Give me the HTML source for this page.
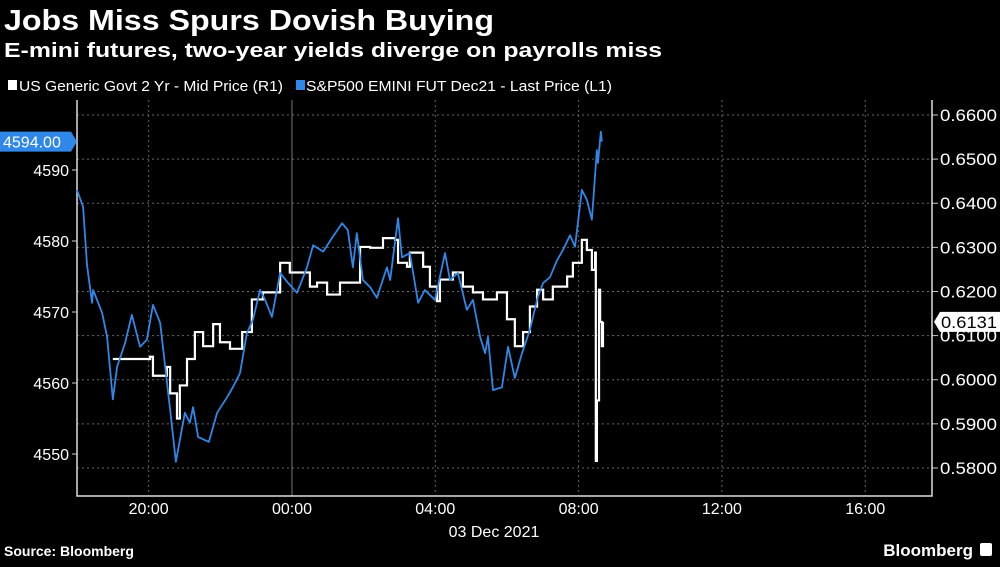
<!DOCTYPE html>
<html><head><meta charset="utf-8"><style>
body{margin:0;background:#000;width:1000px;height:562px;overflow:hidden;font-family:"Liberation Sans",sans-serif;color:#fff}
svg text{font-family:"Liberation Sans",sans-serif}
</style></head><body>
<svg id="chart" width="1000" height="562">
<text x="4" y="30" font-size="29" font-weight="bold" fill="#fff" textLength="490" lengthAdjust="spacingAndGlyphs">Jobs Miss Spurs Dovish Buying</text>
<text x="4" y="57" font-size="20" font-weight="bold" fill="#fff" textLength="658" lengthAdjust="spacingAndGlyphs">E-mini futures, two-year yields diverge on payrolls miss</text>
<g>
<rect x="8" y="80" width="9" height="10" fill="#fff"/>
<text x="19" y="91" font-size="15" fill="#fff" textLength="264" lengthAdjust="spacingAndGlyphs">US Generic Govt 2 Yr - Mid Price (R1)</text>
<rect x="296" y="80" width="9" height="10" fill="#2f87e8"/>
<text x="306" y="91" font-size="15" fill="#fff" textLength="306" lengthAdjust="spacingAndGlyphs">S&amp;P500 EMINI FUT  Dec21 - Last Price (L1)</text>
</g>
<g id="grid"></g><g id="axes"></g><g id="series"></g><g id="labels"></g>
<text x="4" y="556" font-size="14" font-weight="bold" fill="#fff">Source: Bloomberg</text>
<text x="973" y="556" font-size="17" font-weight="bold" fill="#fff" text-anchor="end">Bloomberg</text>
<rect x="980" y="543" width="12" height="13" rx="2" fill="#fff"/>
</svg>
<script>
// hours since 18:00 on 02 Dec
const spxTimes=[0,.17,.28,.42,.45,.70,.84,1.0,1.12,1.34,1.53,1.76,1.95,2.12,2.32,2.60,2.76,3.01,3.15,3.24,3.38,3.68,3.91,4.19,4.35,4.55,4.74,4.91,5.11,5.25,5.44,5.67,5.89,6.14,6.42,6.59,6.87,7.14,7.40,7.56,7.70,7.81,7.98,8.18,8.37,8.65,8.74,8.96,9.07,9.29,9.52,9.71,9.99,10.27,10.41,10.63,10.88,11.05,11.25,11.39,11.47,11.61,11.86,12.03,12.22,12.42,12.64,12.86,13.01,13.20,13.40,13.56,13.76,13.90,14.09,14.23,14.37,14.51,14.54,14.62,14.65];
const spxValues=[4587.2,4584.8,4576.6,4571.3,4573.1,4569.9,4566.5,4557.7,4562.3,4565.6,4569.6,4565.1,4566.1,4571.0,4568.5,4556.2,4548.9,4555.8,4554.4,4556.6,4552.4,4551.7,4555.8,4558.0,4559.4,4561.4,4567.0,4568.9,4573.1,4571.7,4569.3,4575.5,4574.1,4572.7,4576.3,4579.4,4578.5,4580.6,4582.5,4581.5,4576.3,4581.1,4574.5,4573.5,4572.0,4576.3,4574.5,4583.2,4577.7,4578.3,4571.3,4573.1,4571.7,4578.3,4574.5,4575.5,4570.3,4571.7,4566.5,4564.2,4566.5,4559.0,4559.4,4565.1,4560.7,4564.2,4567.5,4572.1,4574.1,4574.9,4577.3,4578.7,4580.8,4579.2,4587.2,4585.8,4583.0,4592.8,4591.0,4595.4,4594.0];
const yldTimes=[1.0,2.04,2.12,2.51,2.60,2.79,2.87,3.07,3.29,3.52,3.80,3.99,4.27,4.61,4.88,5.19,5.58,5.67,5.94,6.31,6.50,6.70,6.98,7.34,7.81,7.90,8.18,8.54,8.88,8.96,9.21,9.29,9.66,9.85,10.05,10.13,10.49,10.77,11.05,11.33,11.72,12.0,12.22,12.45,12.64,12.84,13.01,13.28,13.68,13.84,14.09,14.23,14.37,14.46,14.48,14.51,14.57,14.60,14.65,14.68];
const yldValues=[.6047,.6052,.6009,.6029,.5969,.5912,.5987,.6047,.6108,.6076,.6126,.6085,.6070,.6108,.6182,.6198,.6198,.6265,.6243,.6243,.6211,.6220,.6193,.6220,.6220,.6301,.6299,.6321,.6317,.6265,.6256,.6288,.6256,.6211,.6178,.6227,.6243,.6211,.6198,.6182,.6198,.6137,.6076,.6108,.6166,.6204,.6182,.6211,.6234,.6265,.6317,.6294,.6249,.6288,.5816,.5953,.6204,.6131,.6076,.6131];
const leftTicks=[4550,4560,4570,4580,4590];
const rightTicks=[0.58,0.59,0.60,0.61,0.62,0.63,0.64,0.65,0.66];
const xTickHours=[2,6,10,14,18,22];
const xTickLabels=["20:00","00:00","04:00","08:00","12:00","16:00"];
const spxLast="4594.00", yldLast="0.6131";

const L=77,R=932,T=100,B=496;
const xS=h=>L+h*35.83;
const yL=v=>170+(4590-v)*7.1;
const yR=v=>115+(0.66-v)*4412;
const NS="http://www.w3.org/2000/svg";
function mk(tag,parent,attrs){const e=document.createElementNS(NS,tag);for(const k in attrs)e.setAttribute(k,attrs[k]);parent.appendChild(e);return e;}
const grid=document.getElementById('grid'),axes=document.getElementById('axes'),ser=document.getElementById('series'),lab=document.getElementById('labels');
rightTicks.forEach(v=>{const y=yR(v);
 const g=mk('line',grid,{x1:L,x2:R,y1:y,y2:y,stroke:'#666','stroke-dasharray':'2,3','stroke-width':1});
 
 
 const t=mk('line',axes,{x1:R,x2:R+6,y1:y,y2:y,stroke:'#ccc'});
 
 
 const tx=mk('text',lab,{x:R+8,y:y+6,'font-size':17,fill:'#fff',textLength:57,lengthAdjust:'spacingAndGlyphs'});tx.textContent=v.toFixed(4);
 
 
});
leftTicks.forEach(v=>{const y=yL(v);
 const t=mk('line',axes,{x1:L-5,x2:L,y1:y,y2:y,stroke:'#ccc'});
 
 
 const tx=mk('text',lab,{x:L-8,y:y+6,'font-size':16,fill:'#fff','text-anchor':'end'});tx.textContent=v;
 
 
});
xTickHours.forEach((h,i)=>{const x=xS(h);
 const g=mk('line',grid,{x1:x,x2:x,y1:T,y2:B,stroke:i==1?'#777':'#666','stroke-dasharray':i==1?'none':'2,3'});
 
 
 const tx=mk('text',lab,{x:x,y:514,'font-size':16,fill:'#fff','text-anchor':'middle'});tx.textContent=xTickLabels[i];
 
 
});
const dl=mk('text',lab,{x:494,y:537,'font-size':16,fill:'#fff','text-anchor':'middle'});dl.textContent='03 Dec 2021';


const ax=mk('path',axes,{d:`M${L},${T}V${B}H${R}V${T}`,stroke:'#ddd',fill:'none','stroke-width':1.5});


let d='';yldTimes.forEach((t,i)=>{const x=xS(t),y=yR(yldValues[i]);if(i==0)d=`M${x},${y}`;else d+=`H${x}V${y}`;});
const yl=mk('path',ser,{d:d,stroke:'#fff',fill:'none','stroke-width':2.2});


let d2='';spxTimes.forEach((t,i)=>{d2+=(i?'L':'M')+xS(t)+','+yL(spxValues[i]);});
const sl=mk('path',ser,{d:d2,stroke:'#2f87e8',fill:'none','stroke-width':1.8,'stroke-linejoin':'round'});


const by=yL(parseFloat(spxLast));
const bb=mk('path',lab,{d:`M0,${by-10}H71L77,${by}L71,${by+10}H0Z`,fill:'#2f87e8'});


const bt=mk('text',lab,{x:3,y:by+6,'font-size':16,fill:'#fff'});bt.textContent=spxLast;


const ry=yR(parseFloat(yldLast));
const rb=mk('path',lab,{d:`M${R+2},${ry}L${R+8},${ry-10}H1000V${ry+10}H${R+8}Z`,fill:'#fff'});


const rt=mk('text',lab,{x:R+9,y:ry+6,'font-size':17,fill:'#000',textLength:56,lengthAdjust:'spacingAndGlyphs'});rt.textContent=yldLast;


</script>
</body></html>
